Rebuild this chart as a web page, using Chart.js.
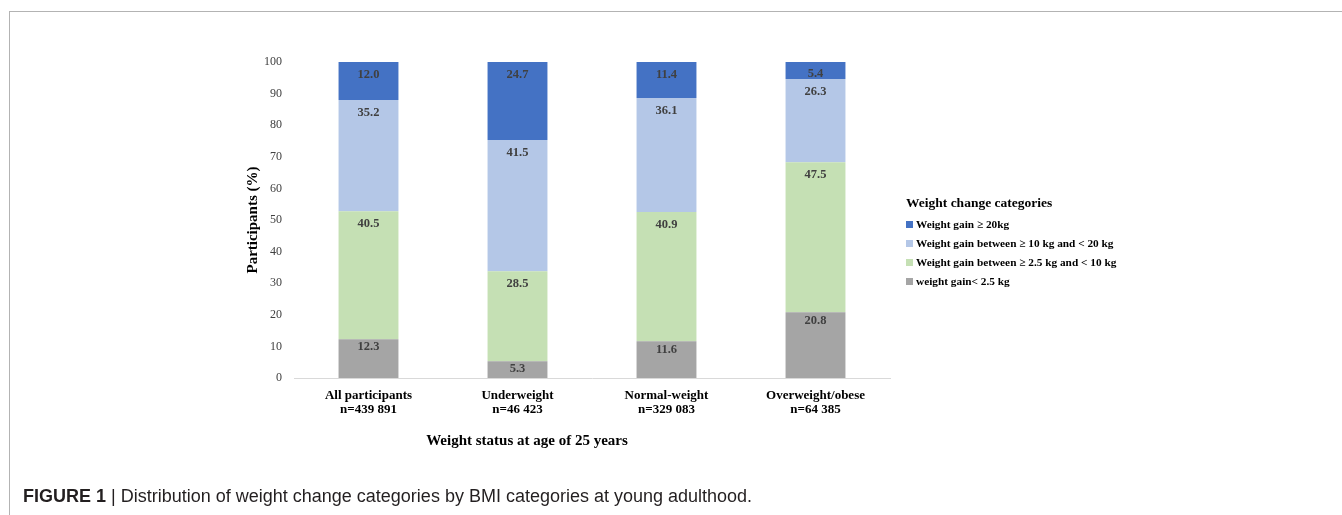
<!DOCTYPE html>
<html>
<head>
<meta charset="utf-8">
<script src="https://cdn.jsdelivr.net/npm/chart.js@4.4.1/dist/chart.umd.min.js"></script>
<style>
  html, body { margin: 0; padding: 0; background: #fff; }
  #page { position: relative; width: 1342px; height: 515px; overflow: hidden; }
  #frame-top { position: absolute; left: 9px; top: 11px; right: 0; height: 1px; background: #b3b3b3; }
  #frame-left { position: absolute; left: 9px; top: 11px; bottom: 0; width: 1px; background: #b3b3b3; }
  #chart-box { position: absolute; left: 0; top: 0; width: 1342px; height: 515px; }
  #x-title {
    position: absolute; left: 527px; top: 432px; transform: translateX(-50%);
    font: bold 15px "Liberation Serif", serif; color: #000; white-space: nowrap;
  }
  #legend { position: absolute; left: 906px; top: 194px; font-family: "Liberation Serif", serif; }
  #legend .title { font-weight: bold; font-size: 13.5px; color: #000; height: 21px; line-height: 18px; }
  #legend .item { font-weight: bold; font-size: 11.3px; color: #000; height: 19px; line-height: 19px; white-space: nowrap; }
  #legend .swatch { display: inline-block; width: 7px; height: 7px; margin-right: 3px; vertical-align: 0px; }
  #caption {
    position: absolute; left: 23px; top: 486px; white-space: nowrap;
    font: 18px "Liberation Sans Narrow", "Liberation Sans", sans-serif; color: #231f20;
  }
  #caption b { font-weight: bold; }
</style>
</head>
<body>
<div id="page">
  <div id="frame-top"></div>
  <div id="frame-left"></div>
  <div id="chart-box"><canvas id="weight-chart"></canvas></div>
  <div id="x-title">Weight status at age of 25 years</div>
  <div id="legend"></div>
  <div id="caption"><b>FIGURE 1</b> | Distribution of weight change categories by BMI categories at young adulthood.</div>
</div>
<script>
const categories = [
  ["All participants", "n=439 891"],
  ["Underweight", "n=46 423"],
  ["Normal-weight", "n=329 083"],
  ["Overweight/obese", "n=64 385"],
];

const seriesNames = [
  "weight gain< 2.5 kg",
  "Weight gain between \u2265 2.5 kg and < 10 kg",
  "Weight gain between \u2265 10 kg and < 20 kg",
  "Weight gain \u2265 20kg",
];

const gainUnder2_5 = [12.3, 5.3, 11.6, 20.8];
const gain2_5to10 = [40.5, 28.5, 40.9, 47.5];
const gain10to20 = [35.2, 41.5, 36.1, 26.3];
const gainOver20 = [12.0, 24.7, 11.4, 5.4];

const yTicks = [0, 10, 20, 30, 40, 50, 60, 70, 80, 90, 100];

const seriesColors = ["#a5a5a5", "#c5e0b4", "#b4c7e7", "#4472c4"];
const labelOffsets = [8, 13, 13, 13];

const serif = "'Liberation Serif', 'Times New Roman', serif";

// draws the value near the top of each stacked segment
const segmentLabels = {
  id: "segmentLabels",
  afterDatasetsDraw(chart) {
    const { ctx } = chart;
    ctx.save();
    ctx.font = `bold 12.5px ${serif}`;
    ctx.fillStyle = "#404040";
    ctx.textAlign = "center";
    ctx.textBaseline = "middle";
    chart.data.datasets.forEach((dataset, i) => {
      const meta = chart.getDatasetMeta(i);
      meta.data.forEach((bar, j) => {
        const bottom = bar.base;
        let y = bar.y + labelOffsets[i];
        if (y > bottom - 5) y = bottom - 5;
        ctx.fillText(dataset.data[j].toFixed(1), bar.x, y);
      });
    });
    ctx.restore();
  },
};

const renderLegend = (chart) => {
  const container = document.getElementById("legend");
  const items = chart.data.datasets
    .map((ds) => `<div class="item"><span class="swatch" style="background:${ds.backgroundColor}"></span>${ds.label.replace(/</g, "&lt;")}</div>`)
    .reverse()
    .join("");
  container.innerHTML = `<div class="title">Weight change categories</div>${items}`;
};

const renderChart = () => {
  const ctx = document.getElementById("weight-chart");
  const seriesData = [gainUnder2_5, gain2_5to10, gain10to20, gainOver20];

  const chart = new Chart(ctx, {
    type: "bar",
    data: {
      labels: categories,
      datasets: seriesData.map((data, i) => ({
        label: seriesNames[i],
        data,
        backgroundColor: seriesColors[i],
        borderWidth: 0,
        categoryPercentage: 1,
        barPercentage: 0.402,
      })),
    },
    plugins: [segmentLabels],
    options: {
      responsive: true,
      maintainAspectRatio: false,
      animation: false,
      layout: { padding: { left: 244, right: 452, top: 62, bottom: 87 } },
      plugins: {
        legend: { display: false },
        tooltip: { enabled: false },
      },
      scales: {
        x: {
          stacked: true,
          grid: { display: false },
          border: { color: "#d9d9d9", width: 1 },
          ticks: {
            color: "#000",
            padding: 2,
            maxRotation: 0,
            font: { family: serif, size: 13, weight: "bold", lineHeight: 1.1 },
          },
          afterFit: (scale) => { scale.height = 50; },
        },
        y: {
          stacked: true,
          min: 0,
          max: 100,
          afterBuildTicks: (scale) => { scale.ticks = yTicks.map((value) => ({ value })); },
          grid: { display: false, drawTicks: false },
          border: { display: false },
          ticks: {
            color: "#404040",
            padding: 12,
            font: { family: serif, size: 12 },
          },
          title: {
            display: true,
            text: "Participants (%)",
            color: "#000",
            padding: 0,
            font: { family: serif, size: 15, weight: "bold", lineHeight: 1.2 },
          },
          afterFit: (scale) => { scale.width = 50; },
        },
      },
    },
  });

  renderLegend(chart);
};

document.addEventListener("DOMContentLoaded", renderChart);
</script>
</body>
</html>
